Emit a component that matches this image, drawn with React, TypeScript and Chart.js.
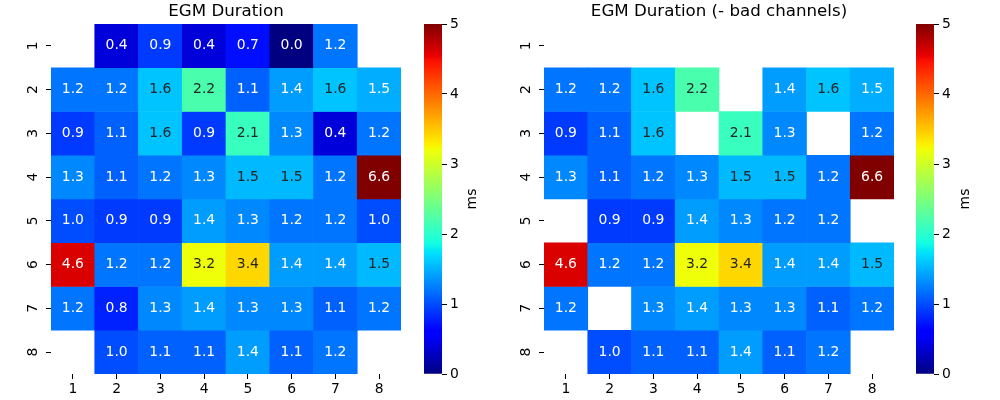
import React, { useEffect, useRef } from "react";
import { Chart, registerables } from "chart.js";

Chart.register(...registerables);

// ---------------- data ----------------
const colLabels = ["1", "2", "3", "4", "5", "6", "7", "8"];
const rowLabels = ["1", "2", "3", "4", "5", "6", "7", "8"];
const colorbarTicks = [0, 1, 2, 3, 4, 5];
const vmin = 0;
const vmax = 5;
const titleAll = "EGM Duration";
const titleGood = "EGM Duration (- bad channels)";
const unitLabel = "ms";

const allRow1 = [null, 0.4, 0.9, 0.4, 0.7, 0.0, 1.2, null];
const allRow2 = [1.2, 1.2, 1.6, 2.2, 1.1, 1.4, 1.6, 1.47];
const allRow3 = [0.9, 1.1, 1.6, 0.9, 2.1, 1.3, 0.4, 1.2];
const allRow4 = [1.3, 1.1, 1.2, 1.3, 1.53, 1.53, 1.2, 6.6];
const allRow5 = [1.0, 0.9, 0.9, 1.4, 1.3, 1.2, 1.2, 1.0];
const allRow6 = [4.6, 1.2, 1.2, 3.2, 3.4, 1.4, 1.4, 1.53];
const allRow7 = [1.2, 0.8, 1.3, 1.4, 1.3, 1.3, 1.1, 1.2];
const allRow8 = [null, 1.0, 1.1, 1.1, 1.4, 1.1, 1.2, null];

const goodRow1 = [null, null, null, null, null, null, null, null];
const goodRow2 = [1.2, 1.2, 1.6, 2.2, null, 1.4, 1.6, 1.47];
const goodRow3 = [0.9, 1.1, 1.6, null, 2.1, 1.3, null, 1.2];
const goodRow4 = [1.3, 1.1, 1.2, 1.3, 1.53, 1.53, 1.2, 6.6];
const goodRow5 = [null, 0.9, 0.9, 1.4, 1.3, 1.2, 1.2, null];
const goodRow6 = [4.6, 1.2, 1.2, 3.2, 3.4, 1.4, 1.4, 1.53];
const goodRow7 = [1.2, null, 1.3, 1.4, 1.3, 1.3, 1.1, 1.2];
const goodRow8 = [null, 1.0, 1.1, 1.1, 1.4, 1.1, 1.2, null];

const allChannels = [allRow1, allRow2, allRow3, allRow4, allRow5, allRow6, allRow7, allRow8];
const goodChannels = [goodRow1, goodRow2, goodRow3, goodRow4, goodRow5, goodRow6, goodRow7, goodRow8];

// ---------------- colormap (matplotlib jet) ----------------
const FONT = "'DejaVu Sans', 'Liberation Sans', sans-serif";
const JET_R = [[0, 0], [0.35, 0], [0.66, 1], [0.89, 1], [1, 0.5]];
const JET_G = [[0, 0], [0.125, 0], [0.375, 1], [0.64, 1], [0.91, 0], [1, 0]];
const JET_B = [[0, 0.5], [0.11, 1], [0.34, 1], [0.65, 0], [1, 0]];
const JET_STOPS = [0, 0.11, 0.125, 0.34, 0.35, 0.375, 0.64, 0.65, 0.66, 0.89, 0.91, 1];

function seg(pts: number[][], t: number): number {
  for (let i = 0; i < pts.length - 1; i++) {
    const [x0, y0] = pts[i];
    const [x1, y1] = pts[i + 1];
    if (t <= x1) {
      if (x1 === x0) return y1;
      return y0 + ((t - x0) / (x1 - x0)) * (y1 - y0);
    }
  }
  return pts[pts.length - 1][1];
}
function jet(t: number): number[] {
  return [seg(JET_R, t), seg(JET_G, t), seg(JET_B, t)];
}
function rgbCss(c: number[]): string {
  return `rgb(${Math.round(c[0] * 255)},${Math.round(c[1] * 255)},${Math.round(c[2] * 255)})`;
}
function cellRgb(v: number): number[] {
  let t = (v - vmin) / (vmax - vmin);
  t = Math.max(0, Math.min(1, t));
  const idx = Math.min(255, Math.floor(t * 256));
  return jet(idx / 255);
}
function luminance(c: number[]): number {
  const f = (x: number) => (x <= 0.03928 ? x / 12.92 : Math.pow((x + 0.055) / 1.055, 2.4));
  return 0.2126 * f(c[0]) + 0.7152 * f(c[1]) + 0.0722 * f(c[2]);
}

// ---------------- plugins ----------------
function makeAnnotationPlugin(matrix: (number | null)[][]) {
  return {
    id: "cellAnnotations",
    afterDatasetsDraw(chart: any) {
      const ctx = chart.ctx;
      ctx.save();
      ctx.font = `13.9px ${FONT}`;
      ctx.textAlign = "center";
      ctx.textBaseline = "middle";
      chart.data.datasets.forEach((_: any, r: number) => {
        const meta = chart.getDatasetMeta(r);
        meta.data.forEach((el: any, c: number) => {
          const row = matrix[r] || [];
          const v = row[c];
          if (v == null) return;
          const p = el.getProps(["x", "y", "base"], true);
          const cy = (p.y + p.base) / 2;
          ctx.fillStyle = luminance(cellRgb(v)) > 0.408 ? "#262626" : "#ffffff";
          ctx.fillText(v.toFixed(1), p.x, cy);
        });
      });
      ctx.restore();
    },
  };
}

const yLabelPlugin = {
  id: "rotatedYLabels",
  afterDraw(chart: any) {
    const ctx = chart.ctx;
    const ys = chart.scales.y;
    ctx.save();
    ctx.font = `13.9px ${FONT}`;
    ctx.fillStyle = "#000";
    ctx.textAlign = "center";
    ctx.textBaseline = "middle";
    rowLabels.forEach((lab, i) => {
      const y = ys.getPixelForValue(i + 1);
      ctx.save();
      ctx.translate(chart.chartArea.left - 18, y);
      ctx.rotate(-Math.PI / 2);
      ctx.fillText(lab, 0, 0);
      ctx.restore();
    });
    ctx.restore();
  },
};

function makeUnitPlugin(offset: number) {
  return {
    id: "unitLabel",
    afterDraw(chart: any) {
      const ctx = chart.ctx;
      const a = chart.chartArea;
      ctx.save();
      ctx.font = `13.9px ${FONT}`;
      ctx.fillStyle = "#000";
      ctx.textAlign = "center";
      ctx.textBaseline = "middle";
      ctx.translate(a.right + offset, (a.top + a.bottom) / 2);
      ctx.rotate(-Math.PI / 2);
      ctx.fillText(unitLabel, 0, 0);
      ctx.restore();
    },
  };
}

// ---------------- components ----------------
type HeatProps = {
  matrix: (number | null)[][];
  title: string;
  left: number;
  width: number;
  yAxisWidth: number;
  rightPad: number;
};

function Heatmap({ matrix, title, left, width, yAxisWidth, rightPad }: HeatProps) {
  const ref = useRef<HTMLCanvasElement | null>(null);
  useEffect(() => {
    if (!ref.current) return;
    const datasets = matrix.map((row, r) => ({
      label: rowLabels[r],
      data: row.map((v) => (v == null ? null : [r + 0.5, r + 1.5])),
      backgroundColor: row.map((v) => (v == null ? "rgba(0,0,0,0)" : rgbCss(cellRgb(v)))),
      borderWidth: 0,
      barPercentage: 1,
      categoryPercentage: 1,
      grouped: false,
    }));
    const tickGrid = {
      display: true,
      offset: false,
      drawOnChartArea: false,
      drawTicks: true,
      tickLength: 5,
      color: "#000",
      lineWidth: 1,
    };
    const chart: any = new Chart(ref.current, {
      type: "bar",
      data: { labels: colLabels, datasets: datasets as any },
      options: {
        responsive: false,
        animation: false,
        events: [],
        layout: { padding: { left: 0, right: rightPad, top: 0, bottom: 0 } },
        plugins: {
          legend: { display: false },
          tooltip: { enabled: false },
          title: {
            display: true,
            text: title,
            fullSize: false,
            color: "#000",
            font: { family: FONT, size: 16.67, weight: "normal" as any },
            padding: { top: 2, bottom: 2 },
          },
        },
        scales: {
          x: {
            type: "category",
            offset: true,
            grid: tickGrid as any,
            border: { display: false },
            ticks: { color: "#000", font: { family: FONT, size: 13.9 }, padding: 2, maxRotation: 0, autoSkip: false },
            afterFit: (s: any) => {
              s.height = 26;
            },
          },
          y: {
            type: "linear",
            reverse: true,
            min: 0.5,
            max: 8.5,
            grid: tickGrid as any,
            border: { display: false },
            ticks: { display: false },
            afterBuildTicks: (ax: any) => {
              ax.ticks = rowLabels.map((_, i) => ({ value: i + 1 }));
            },
            afterFit: (s: any) => {
              s.width = yAxisWidth;
            },
          },
        },
      },
      plugins: [makeAnnotationPlugin(matrix), yLabelPlugin],
    } as any);
    return () => chart.destroy();
  }, [matrix, title, yAxisWidth, rightPad]);
  return (
    <canvas
      ref={ref}
      width={width}
      height={400}
      style={{ position: "absolute", left, top: 0, width, height: 400 }}
    />
  );
}

type BarProps = { left: number; width: number; labelOffset: number };

function Colorbar({ left, width, labelOffset }: BarProps) {
  const ref = useRef<HTMLCanvasElement | null>(null);
  useEffect(() => {
    if (!ref.current) return;
    const barW = 18;
    const padLeft = 8;
    const chart: any = new Chart(ref.current, {
      type: "bar",
      data: {
        labels: [""],
        datasets: [
          {
            data: [[vmin, vmax]],
            backgroundColor: (c: any) => {
              const area = c.chart.chartArea;
              if (!area) return "rgba(0,0,0,0)";
              const g = c.chart.ctx.createLinearGradient(0, area.bottom, 0, area.top);
              JET_STOPS.forEach((s) => g.addColorStop(s, rgbCss(jet(s))));
              return g;
            },
            borderWidth: 0,
            barPercentage: 1,
            categoryPercentage: 1,
          },
        ] as any,
      },
      options: {
        responsive: false,
        animation: false,
        events: [],
        layout: { padding: { left: padLeft, right: 0, top: 24, bottom: 26 } },
        plugins: { legend: { display: false }, tooltip: { enabled: false } },
        scales: {
          x: { display: false },
          y: {
            position: "right",
            min: vmin,
            max: vmax,
            grid: {
              display: true,
              drawOnChartArea: false,
              drawTicks: true,
              tickLength: 5,
              color: "#000",
              lineWidth: 1,
            },
            border: { display: false },
            ticks: { color: "#000", font: { family: FONT, size: 13.9 }, padding: 3 },
            afterBuildTicks: (ax: any) => {
              ax.ticks = colorbarTicks.map((v) => ({ value: v }));
            },
            afterFit: (s: any) => {
              s.width = width - padLeft - barW;
            },
          },
        },
      },
      plugins: [makeUnitPlugin(labelOffset)],
    } as any);
    return () => chart.destroy();
  }, [left, width, labelOffset]);
  return (
    <canvas
      ref={ref}
      width={width}
      height={400}
      style={{ position: "absolute", left, top: 0, width, height: 400 }}
    />
  );
}

export default function App() {
  return (
    <div
      style={{
        position: "fixed",
        left: 0,
        top: 0,
        width: 1000,
        height: 400,
        background: "#ffffff",
        overflow: "hidden",
      }}
    >
      <Heatmap matrix={allChannels} title={titleAll} left={0} width={452} yAxisWidth={51} rightPad={51} />
      <Colorbar left={416} width={84} labelOffset={30} />
      <Heatmap matrix={goodChannels} title={titleGood} left={500} width={438} yAxisWidth={44} rightPad={44} />
      <Colorbar left={908} width={92} labelOffset={31} />
    </div>
  );
}
